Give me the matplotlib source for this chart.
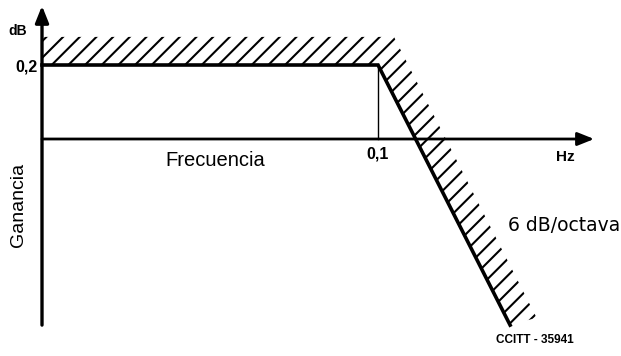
import matplotlib
matplotlib.use("Agg")
import matplotlib.pyplot as plt
from matplotlib.patches import Polygon

# mask of the gain characteristic (schematic units: frequency, dB)
mask_f = [0.0, 0.1, 0.1393]
mask_db = [0.2, 0.2, -0.503]
hatch_top_db = 0.276
band_width = 0.009
tick_f = 0.1
tick_db = 0.2

plt.rcParams['font.family'] = ['Liberation Sans', 'DejaVu Sans']
plt.rcParams['hatch.linewidth'] = 1.5

W, H = 621, 356
fig = plt.figure(figsize=(W / 100, H / 100), dpi=100)
ax = fig.add_axes([0, 0, 1, 1])
ax.set_xlim(-0.0125, 0.1723)
ax.set_ylim(-0.5865, 0.3757)
ax.axis('off')


def ftxt(px, py, s, **kw):
    fig.text(px / W, 1 - py / H, s, **kw)


# hatched forbidden band
k = (mask_f[2] - mask_f[1]) / (mask_db[2] - mask_db[1])
f_top = mask_f[1] + (hatch_top_db - mask_db[1]) * k + band_width
y_low = mask_db[2] + 0.02
f_low = mask_f[1] + (y_low - mask_db[1]) * k + band_width
band = [(mask_f[0], mask_db[0]), (mask_f[0], hatch_top_db), (f_top, hatch_top_db),
        (f_low, y_low), (mask_f[2], mask_db[2]), (mask_f[1], mask_db[1])]
ax.add_patch(Polygon(band, closed=True, facecolor='white', edgecolor='black',
                     linewidth=0, hatch='//', zorder=1))

# axes with arrows
ax.annotate('', xy=(0, 0.36), xytext=(0, -0.503),
            arrowprops=dict(arrowstyle='-|>,head_length=1.0,head_width=0.4',
                            color='black', lw=2.4, shrinkA=0, shrinkB=0))
ax.annotate('', xy=(0.1643, 0), xytext=(0, 0),
            arrowprops=dict(arrowstyle='-|>,head_length=1.0,head_width=0.4',
                            color='black', lw=2.0, shrinkA=0, shrinkB=0))

# mask line and knee marker
ax.plot(mask_f, mask_db, color='black', lw=2.6, solid_joinstyle='miter', zorder=3)
ax.plot([tick_f, tick_f], [0, tick_db], color='black', lw=1.0, zorder=2)

# labels
ftxt(18, 31, 'dB', fontsize=10, fontweight='bold', ha='center', va='center')
ftxt(38, 67, '0,2', fontsize=11.5, fontweight='bold', ha='right', va='center')
ftxt(378, 154, '0,1', fontsize=11.5, fontweight='bold', ha='center', va='center')
ftxt(565, 157, 'Hz', fontsize=11, fontweight='bold', ha='center', va='center')
ftxt(215, 160, 'Frecuencia', fontsize=14.5, ha='center', va='center')
ftxt(19, 205, 'Ganancia', fontsize=14, rotation=90, ha='center', va='center')
ftxt(508, 225, '6 dB/octava', fontsize=13.5, ha='left', va='center',
     family=['DejaVu Sans'])
ftxt(535, 340, 'CCITT - 35941', fontsize=8.5, fontweight='bold',
     ha='center', va='center')

fig.savefig('out.png', dpi=100)
